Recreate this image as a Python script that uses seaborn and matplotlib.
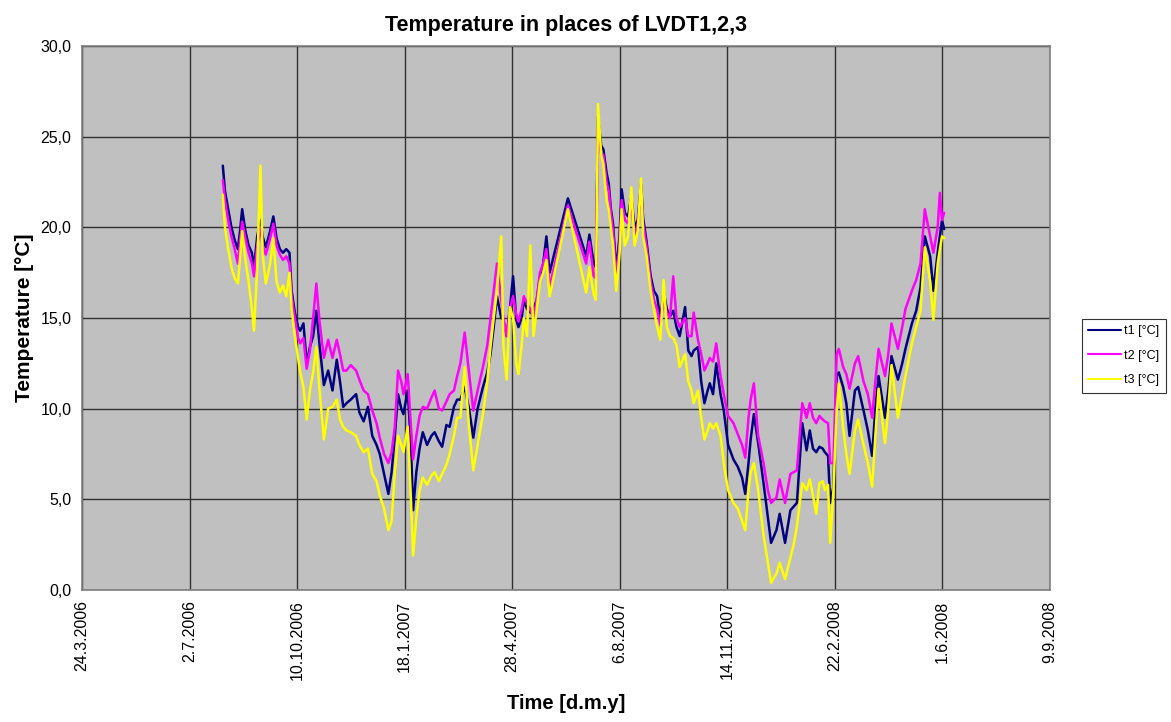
import pandas as pd
import numpy as np
import matplotlib
matplotlib.use("Agg")
import matplotlib.pyplot as plt
import matplotlib.ticker as mticker
import seaborn as sns

# day offsets from 24.3.2006 and temperatures
start = "2006-03-24"
days = [131, 133, 136, 139, 142, 145, 147, 149, 152, 155, 158, 160, 163, 166, 168, 171, 175, 178, 181, 184,
        187, 190, 193, 195, 198, 201, 203, 206, 209, 212, 215, 218, 221, 225, 229, 233, 237, 240, 243, 246,
        250, 255, 258, 262, 266, 270, 274, 277, 281, 285, 288, 291, 294, 297, 299, 303, 306, 308, 311, 314,
        317, 321, 325, 328, 332, 335, 339, 342, 346, 349, 352, 356, 360, 364, 368, 373, 377, 380, 383, 386,
        390, 392, 395, 398, 401, 404, 406, 409, 411, 414, 417, 420, 423, 426, 429, 432, 435, 452, 469, 472,
        476, 478, 480, 483, 485, 488, 490, 492, 494, 497, 500, 502, 505, 508, 511, 514, 517, 520, 522, 525,
        529, 532, 535, 538, 541, 544, 547, 550, 553, 556, 561, 564, 567, 569, 573, 576, 579, 582, 584, 587,
        590, 594, 597, 601, 606, 610, 614, 617, 620, 622, 625, 629, 634, 638, 641, 646, 649, 654, 659, 662,
        665, 670, 674, 677, 680, 683, 686, 689, 691, 694, 696, 699, 702, 704, 708, 711, 714, 719, 722, 727,
        731, 735, 738, 741, 747, 750, 753, 759, 763, 766, 772, 776, 780, 784, 789, 792, 796, 798, 800, 802]

t1 = [23.4, 22.0, 21.0, 20.0, 19.3, 18.8, 19.8, 21.0, 19.8, 19.0, 18.6, 17.8, 19.5, 20.4, 19.5, 18.9, 19.8, 20.6, 19.4, 18.8,
      18.6, 18.8, 18.6, 16.5, 15.3, 14.5, 14.3, 14.7, 12.5, 13.4, 14.0, 15.4, 13.5, 11.3, 12.1, 11.0, 12.7, 11.5, 10.1, 10.3,
      10.5, 10.8, 9.8, 9.3, 10.1, 8.5, 8.0, 7.5, 6.4, 5.3, 6.5, 8.5, 10.8, 10.0, 9.7, 11.0, 8.0, 4.4, 6.5, 7.8,
      8.7, 8.0, 8.5, 8.7, 8.2, 7.9, 9.1, 9.0, 10.1, 10.5, 10.5, 11.2, 10.0, 8.4, 10.0, 11.2, 12.0, 13.0, 14.5, 16.2,
      15.0, 14.9, 14.0, 15.5, 17.3, 14.9, 14.5, 15.0, 16.0, 15.5, 15.3, 15.5, 16.0, 17.3, 18.0, 19.5, 17.5, 21.6, 18.4, 19.6,
      18.0, 17.8, 26.1, 24.5, 24.3, 23.0, 22.4, 21.0, 20.2, 17.6, 19.5, 22.1, 20.8, 20.6, 21.7, 20.0, 20.4, 22.4, 20.5, 19.3,
      17.3, 16.5, 16.2, 14.9, 16.5, 15.5, 15.1, 15.4, 14.5, 14.0, 15.6, 13.2, 12.9, 13.2, 13.4, 11.5, 10.3, 11.0, 11.4, 10.8,
      12.5, 10.8, 9.9, 8.0, 7.2, 6.8, 6.2, 5.3, 7.0, 8.3, 9.7, 8.1, 5.9, 4.0, 2.6, 3.3, 4.2, 2.6, 4.4, 4.6,
      4.8, 9.2, 7.7, 8.8, 7.8, 7.6, 7.9, 7.8, 7.6, 7.4, 4.8, 5.7, 11.8, 12.0, 11.2, 10.3, 8.5, 11.0, 11.2, 9.9,
      8.8, 7.4, 10.0, 11.8, 9.5, 11.0, 12.9, 11.6, 12.5, 13.3, 14.7, 15.4, 16.7, 19.5, 18.4, 16.5, 18.6, 19.5, 20.4, 19.9]

t2 = [22.6, 21.5, 20.4, 19.5, 18.8, 18.0, 19.2, 20.3, 19.4, 18.6, 18.0, 17.3, 19.0, 20.0, 19.0, 18.5, 19.4, 20.2, 19.0, 18.5,
      18.2, 18.4, 18.0, 16.2, 15.0, 13.9, 13.6, 13.9, 12.2, 13.2, 15.0, 16.9, 14.8, 12.8, 13.8, 12.8, 13.8, 13.0, 12.1, 12.1,
      12.4, 12.1, 11.6, 11.0, 10.8, 9.9, 9.2, 8.4, 7.5, 7.0, 7.6, 9.0, 12.1, 11.5, 10.8, 11.9, 9.0, 7.2, 8.5, 9.6,
      10.1, 10.0, 10.6, 11.0, 10.0, 9.9, 10.4, 10.8, 11.0, 11.8, 12.5, 14.2, 12.0, 9.9, 11.0, 12.3, 13.5, 15.0, 16.5, 18.0,
      16.0, 15.0, 14.0, 15.5, 16.2, 15.2, 14.8, 15.5, 16.2, 15.8, 15.5, 15.0, 16.0, 17.5, 18.0, 18.8, 16.7, 21.2, 18.0, 19.2,
      17.3, 17.2, 25.5, 24.0, 24.0, 22.5, 22.0, 20.8, 19.8, 17.2, 19.0, 21.5, 20.4, 20.2, 21.4, 19.5, 20.2, 22.0, 20.2, 19.0,
      17.0, 16.0, 15.5, 14.6, 16.0, 15.3, 15.0, 17.3, 15.0, 14.5, 15.0, 14.0, 14.0, 15.3, 13.8, 13.0, 12.1, 12.5, 12.8, 12.6,
      13.6, 11.8, 10.8, 9.6, 9.2, 8.6, 8.0, 7.3, 9.5, 10.5, 11.4, 8.5, 7.0, 5.5, 4.8, 5.1, 6.1, 4.8, 6.4, 6.5,
      6.6, 10.3, 9.5, 10.3, 9.5, 9.2, 9.6, 9.4, 9.3, 9.2, 7.0, 7.0, 13.0, 13.3, 12.3, 11.9, 11.1, 12.5, 12.9, 11.5,
      10.8, 9.5, 11.5, 13.3, 11.8, 13.0, 14.7, 13.3, 14.5, 15.5, 16.5, 17.1, 18.0, 21.0, 19.5, 18.6, 20.0, 21.9, 20.4, 20.8]

t3 = [21.8, 20.0, 18.8, 17.8, 17.2, 16.9, 18.3, 19.8, 18.2, 17.0, 15.5, 14.3, 17.8, 23.4, 18.5, 16.9, 18.0, 19.4, 17.0, 16.4,
      16.8, 16.2, 17.5, 15.5, 14.0, 12.8, 12.0, 11.2, 9.4, 11.0, 12.0, 13.4, 11.0, 8.3, 10.0, 10.1, 10.5, 9.4, 9.0, 8.8,
      8.7, 8.5, 8.0, 7.6, 7.8, 6.4, 6.0, 5.2, 4.5, 3.3, 3.8, 6.5, 8.5, 8.0, 7.6, 9.0, 5.0, 1.9, 4.0, 5.5,
      6.2, 5.8, 6.3, 6.5, 6.0, 6.4, 6.9, 7.5, 8.5, 9.5, 9.5, 12.3, 9.0, 6.6, 8.0, 9.7, 11.5, 13.4, 15.0, 16.5,
      19.5, 13.5, 11.6, 15.6, 15.0, 12.5, 11.9, 13.5, 15.0, 14.0, 19.0, 14.0, 15.5, 17.0, 17.5, 18.2, 16.2, 21.0, 16.4, 17.8,
      16.3, 16.0, 26.8, 24.0, 23.5, 21.5, 21.0, 20.0, 19.0, 16.5, 18.5, 21.0, 19.0, 19.5, 22.2, 19.0, 19.8, 22.7, 19.5, 18.5,
      16.5, 15.5, 14.5, 13.8, 17.1, 14.5, 14.0, 13.9, 13.5, 12.3, 13.0, 11.5, 11.0, 10.3, 11.0, 9.5, 8.3, 8.8, 9.2, 8.9,
      9.2, 8.5, 7.0, 5.5, 4.8, 4.5, 3.8, 3.3, 5.5, 6.5, 7.0, 5.5, 3.0, 1.5, 0.4, 0.9, 1.5, 0.6, 1.8, 2.5,
      3.5, 5.9, 5.5, 6.1, 5.2, 4.2, 5.9, 6.0, 5.5, 5.8, 2.6, 5.5, 9.9, 11.4, 9.0, 7.5, 6.4, 8.8, 9.4, 8.0,
      7.0, 5.7, 8.5, 11.1, 8.1, 10.0, 12.4, 9.5, 10.8, 11.8, 13.6, 14.5, 15.4, 18.9, 17.0, 14.9, 18.0, 18.8, 19.5, 19.4]

series_names = ["t1 [°C]", "t2 [°C]", "t3 [°C]"]
series_colors = ["#000080", "#FF00FF", "#FFFF00"]

t0 = pd.Timestamp(start)
dates = t0 + pd.to_timedelta(days, unit="D")
df = pd.concat([
    pd.DataFrame({"date": dates, "temp": vals, "series": name})
    for name, vals in zip(series_names, [t1, t2, t3])
])

sns.set_style("white")
plt.rcParams["font.family"] = ["Liberation Sans", "DejaVu Sans"]
plt.rcParams["text.color"] = "black"
plt.rcParams["axes.labelcolor"] = "black"
plt.rcParams["xtick.labelcolor"] = "black"
plt.rcParams["ytick.labelcolor"] = "black"

fig = plt.figure(figsize=(11.71, 7.22), dpi=100)
ax = fig.add_axes([82 / 1171, 1 - 590 / 722, (1049.5 - 82) / 1171, (590 - 46) / 722])
ax.set_facecolor("#C0C0C0")

sns.lineplot(data=df, x="date", y="temp", hue="series", palette=series_colors,
             hue_order=series_names, linewidth=1.8, ax=ax, legend=False)

tick_dates = [t0 + pd.Timedelta(days=100 * k) for k in range(10)]
ax.set_xlim(tick_dates[0], tick_dates[-1])
ax.set_xticks(tick_dates)
ax.set_xticklabels([f"{d.day}.{d.month}.{d.year}" for d in tick_dates], rotation=90, fontsize=11.5)
ax.set_ylim(0, 30)
ax.yaxis.set_major_locator(mticker.MultipleLocator(5))
ax.yaxis.set_major_formatter(mticker.FuncFormatter(lambda v, p: f"{v:.1f}".replace(".", ",")))
ax.tick_params(axis="y", labelsize=11.5)
ax.tick_params(direction="out", length=4, width=1, color="#808080")

ax.grid(True, color="#303030", linewidth=1.0)
ax.set_axisbelow(True)
for s in ax.spines.values():
    s.set_color("#808080")
    s.set_linewidth(1.2)

ax.set_title("Temperature in places of LVDT1,2,3", fontsize=15.5, fontweight="bold", pad=11)
ax.set_xlabel("Time [d.m.y]", fontsize=14.5, fontweight="bold", labelpad=10)
ax.set_ylabel("Temperature [°C]", fontsize=15, fontweight="bold", labelpad=5)

handles = [plt.Line2D([], [], color=c, linewidth=1.5) for c in series_colors]
leg = fig.legend(handles, series_names, loc="upper left", bbox_to_anchor=(1082 / 1171, 1 - 319 / 722),
                 fontsize=9, frameon=True, fancybox=False, handlelength=2.6, handletextpad=0.3,
                 borderpad=0.5, labelspacing=1.0, borderaxespad=0)
leg.get_frame().set_edgecolor("black")
leg.get_frame().set_linewidth(0.8)

fig.savefig("out.png", dpi=100)
